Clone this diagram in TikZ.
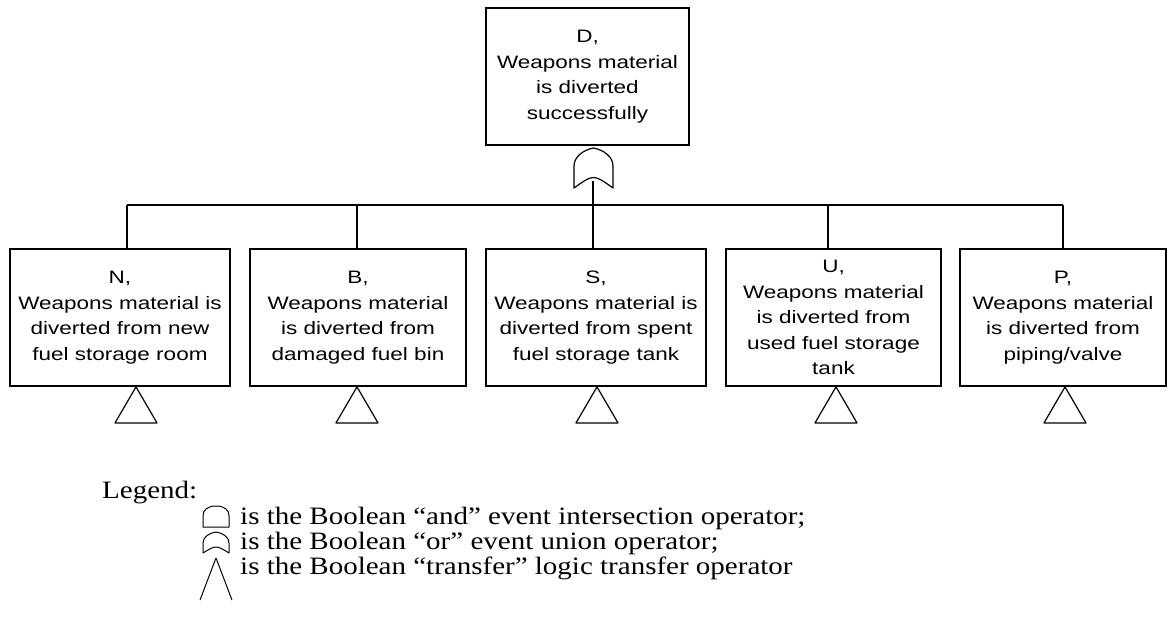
\documentclass[tikz,border=0pt]{standalone}
\usepackage{fontspec}
\setmainfont[FakeStretch=1.16]{Liberation Serif}
\newfontfamily\boxfont[FakeStretch=1.25]{Liberation Sans}
\begin{document}
\begin{tikzpicture}[x=1pt,y=-1pt,
  event/.style={draw, line width=1.8pt, minimum height=137pt, inner sep=0pt,
    align=center, font=\boxfont\fontsize{18}{25.5}\selectfont},
  wire/.style={line width=1.1pt},
  gate/.style={line width=1.2pt, line join=round},
  legendtext/.style={anchor=base west, inner sep=0pt, font=\fontsize{25}{28}\selectfont}]
\useasboundingbox (0,0) rectangle (1170,619);

% top event
\node[event, minimum width=203pt] (D) at (587.5,76.5)
  {D,\\Weapons material\\is diverted\\successfully};

% OR gate under the top event
\draw[gate] (574,188) -- (574,166) .. controls (574,157) and (583,150) .. (593.5,148)
  .. controls (604,150) and (613,157) .. (613,166) -- (613,188)
  .. controls (593.5,174) .. cycle;
\coordinate (gout) at (593,181);
\coordinate (bus) at (593,205);

% intermediate events
\node[event, minimum width=220pt] (N) at (120,317.5)
  {N,\\Weapons material is\\diverted from new\\fuel storage room};
\node[event, minimum width=216pt] (B) at (358,317.5)
  {B,\\Weapons material\\is diverted from\\damaged fuel bin};
\node[event, minimum width=220pt] (S) at (596,317.5)
  {S,\\Weapons material is\\diverted from spent\\fuel storage tank};
\node[event, minimum width=215pt] (U) at (833.5,317.5)
  {U,\\Weapons material\\is diverted from\\used fuel storage\\tank};
\node[event, minimum width=206pt] (P) at (1063,317.5)
  {P,\\Weapons material\\is diverted from\\piping/valve};

% entry points on the box tops
\coordinate (nN) at (127,249);
\coordinate (nB) at (357,249);
\coordinate (nS) at (593,249);
\coordinate (nU) at (828,249);
\coordinate (nP) at (1063,249);

% connectors
\draw[wire] (gout) -- (bus);
\draw[wire] (nN |- bus) -- (nP |- bus);
\foreach \c in {nN,nB,nS,nU,nP}
  \draw[wire] (\c) -- (\c |- bus);

% transfer triangles
\foreach \b/\dx in {N/16,B/-1,S/1,U/2.5,P/2}
  \draw[gate] ([xshift=\dx pt]\b.south) -- ++(-21,36) -- ++(42,0) -- cycle;

% legend
\node[legendtext] (leg) at (102,498) {Legend:};
\draw[gate, line width=1pt] (203,527) -- (203,516) .. controls (203,510) and (207,506) .. (216,506)
  .. controls (225,506) and (229,510) .. (229,516) -- (229,527) -- cycle;
\node[legendtext] (l1) at (240,524) {is the Boolean “and” event intersection operator;};
\draw[gate, line width=1pt] (203,553) -- (203,543) .. controls (203,537) and (209,533) .. (216,532)
  .. controls (223,533) and (229,537) .. (229,543) -- (229,553)
  .. controls (216,545) .. cycle;
\node[legendtext] (l2) at (240,549) {is the Boolean “or” event union operator;};
\draw[gate, line width=1pt] (200,600) -- (216,558) -- (232,600);
\node[legendtext] (l3) at (240,574) {is the Boolean “transfer” logic transfer operator};
\end{tikzpicture}
\end{document}
